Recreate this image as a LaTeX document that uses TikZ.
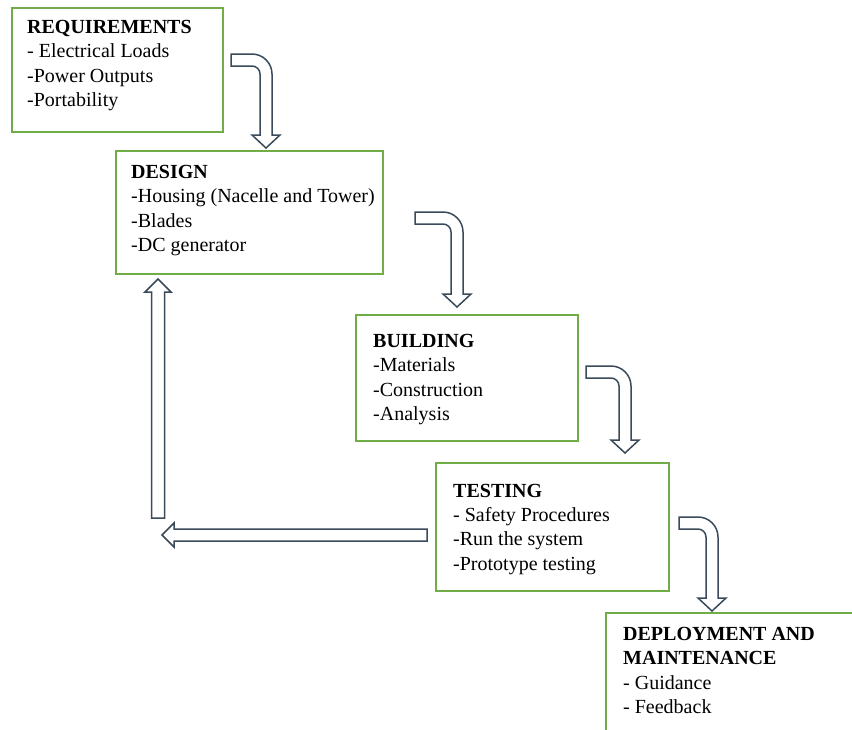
\documentclass[tikz,border=0pt]{standalone}
\usepackage{fontspec}
\setmainfont{Liberation Serif}
\definecolor{boxgreen}{HTML}{70AD47}
\definecolor{arrline}{HTML}{3A4A5A}
\tikzset{
  stagebox/.style={draw=boxgreen, line width=1.6pt, fill=white, rectangle, anchor=north west, inner sep=0pt},
  stagetext/.style={anchor=base west, align=left, inner sep=0pt, font=\fontsize{20}{24.3}\selectfont},
  blockarrow/.style={draw=arrline, fill=white, line width=1.5pt, line join=miter}
}
% bent block arrow: #1 tail left x, #2 tail top y, #3 shaft centre x, #4 tip y
\newcommand\bentarrow[4]{%
  \draw[blockarrow] (#1,#2) -- ({#3+6-20},#2)
    .. controls ({#3+6-20+11},#2) and ({#3+6},{#2+20-11}) .. ({#3+6},{#2+20})
    -- ({#3+6},{#4-13}) -- ({#3+14},{#4-13}) -- (#3,#4) -- ({#3-14},{#4-13})
    -- ({#3-6},{#4-13}) -- ({#3-6},{#2+20})
    .. controls ({#3-6},{#2+20-4.4}) and ({#3-6-8+4.4},{#2+12}) .. ({#3-6-8},{#2+12})
    -- (#1,{#2+12}) -- cycle;}
\begin{document}
\begin{tikzpicture}[x=1pt,y=-1pt]
\clip (0,0) rectangle (852,729);
\fill[white] (0,0) rectangle (852,729);

% boxes
\node[stagebox, minimum width=211pt, minimum height=124pt] (req) at (11,7) {};
\node[stagebox, minimum width=267pt, minimum height=123pt] (des) at (115,150) {};
\node[stagebox, minimum width=222pt, minimum height=126pt] (bld) at (355,314) {};
\node[stagebox, minimum width=233pt, minimum height=128pt] (tst) at (435,462) {};
\node[stagebox, minimum width=260pt, minimum height=130pt] (dep) at (605,612) {};

% texts (anchor = baseline of the last line)
\node[stagetext] (reqt) at (27,106.5) {\textbf{REQUIREMENTS}\\- Electrical Loads\\-Power Outputs\\-Portability};
\node[stagetext] (dest) at (131,251.5) {\textbf{DESIGN}\\-Housing (Nacelle and Tower)\\-Blades\\-DC generator};
\node[stagetext] (bldt) at (373,420.5) {\textbf{BUILDING}\\-Materials\\-Construction\\-Analysis};
\node[stagetext] (tstt) at (453,570.2) {\textbf{TESTING}\\- Safety Procedures\\-Run the system\\-Prototype testing};
\node[stagetext] (dept) at (623,713.5) {\textbf{DEPLOYMENT AND}\\\textbf{MAINTENANCE}\\- Guidance\\- Feedback};

% bent arrows between stages
\bentarrow{231}{54}{266}{148}
\bentarrow{415}{212}{457}{307}
\bentarrow{586}{366}{625}{453}
\bentarrow{679}{517}{712}{611}

% feedback arrows
\draw[blockarrow] (427,529) -- (174,529) -- (174,523) -- (162,535) -- (174,547) -- (174,541) -- (427,541) -- cycle;
\draw[blockarrow] (151.5,518) -- (151.5,292) -- (145,292) -- (158,279) -- (171,292) -- (164.5,292) -- (164.5,518) -- cycle;
\end{tikzpicture}
\end{document}
